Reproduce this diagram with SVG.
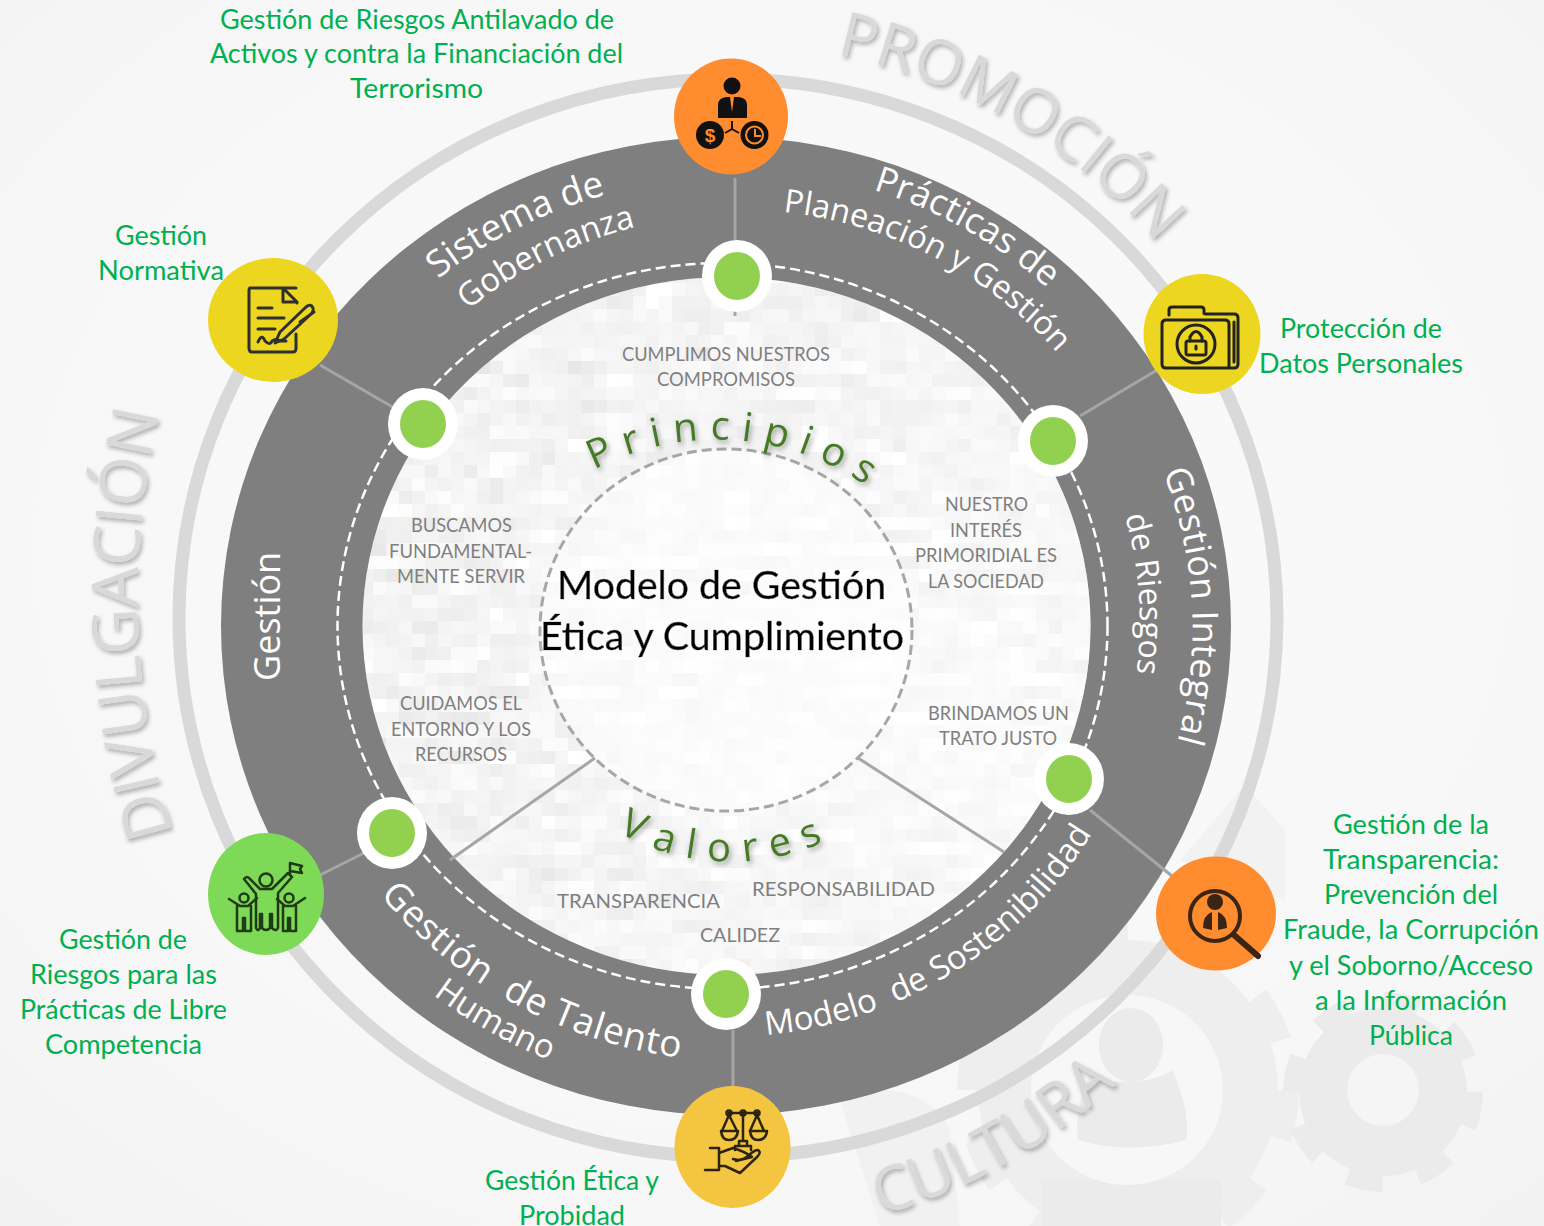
<svg xmlns="http://www.w3.org/2000/svg" width="1544" height="1226" viewBox="0 0 1544 1226">
<defs>
<radialGradient id="bg" cx="0.5" cy="0.45" r="0.75"><stop offset="0" stop-color="#fbfbfb"/><stop offset="0.7" stop-color="#f7f7f7"/><stop offset="1" stop-color="#f2f2f2"/></radialGradient>
<radialGradient id="fadeTex" gradientUnits="userSpaceOnUse" cx="960" cy="720" r="620"><stop offset="0" stop-color="#fff" stop-opacity="0.7"/><stop offset="0.5" stop-color="#fff" stop-opacity="0.25"/><stop offset="1" stop-color="#fff" stop-opacity="0"/></radialGradient>
<filter id="tex" filterUnits="userSpaceOnUse" x="360" y="270" width="735" height="710" color-interpolation-filters="sRGB">
<feTurbulence type="fractalNoise" baseFrequency="0.025 0.07" numOctaves="3" seed="7" result="n"/>
<feColorMatrix in="n" type="matrix" values="0 0 0 0 0.8 0 0 0 0 0.8 0 0 0 0 0.8 0.9 0 0 0 -0.22" result="c"/>
<feFlood x="366" y="276" width="1" height="1" flood-color="#000"/>
<feComposite x="360" y="270" width="13" height="13"/>
<feTile x="360" y="270" width="735" height="710" result="t"/>
<feComposite in="c" in2="t" operator="in"/>
<feMorphology operator="dilate" radius="6"/>
<feGaussianBlur stdDeviation="0.7"/>
</filter>
<filter id="sh" x="-10%" y="-10%" width="120%" height="120%"><feDropShadow dx="2" dy="3" stdDeviation="2" flood-color="#000" flood-opacity="0.3"/></filter>
<filter id="shg" x="-10%" y="-20%" width="120%" height="140%"><feDropShadow dx="2" dy="3" stdDeviation="2.5" flood-color="#000" flood-opacity="0.35"/></filter>
<filter id="glow" x="-10%" y="-20%" width="120%" height="140%"><feDropShadow dx="0" dy="0" stdDeviation="2.5" flood-color="#fff" flood-opacity="1"/></filter>
<clipPath id="innerClip"><ellipse cx="726.5" cy="626" rx="364" ry="349"/></clipPath>
<path id="pSis" d="M438 279A462 445 0 0 1 616 192"/>
<path id="pGob" d="M468 310A420 405 0 0 1 640 226"/>
<path id="pPra" d="M873 190A460 445 0 0 1 1060 300"/>
<path id="pPla" d="M783 212A420 405 0 0 1 1075 375"/>
<path id="pInt" d="M1163 472A462 445 0 0 1 1172 760"/>
<path id="pRie" d="M1125 516A420 405 0 0 1 1133 695"/>
<path id="pMod" d="M766 1035A425 410 0 0 0 1110 800"/>
<path id="pTal" d="M380 895A470 450 0 0 0 700 1060"/>
<path id="pHum" d="M433 995A510 490 0 0 0 570 1068"/>
<path id="pPro" d="M836 54A580 570 0 0 1 1200 300"/>
<path id="pDiv" d="M173 833A800 800 0 0 1 168 380"/>
<path id="pCul" d="M880 1215A580 570 0 0 0 1150 1050"/>
<path id="pPri" d="M594 470A250 235 0 0 1 890 505"/>
<path id="pVal" d="M618 832A215 200 0 0 0 832 838"/>
<style>
.g{font-family:"Lato","Liberation Sans",sans-serif;font-size:27px;fill:#00b050;transform:translate(0,1px)}
.l{font-family:"Lato","Liberation Sans",sans-serif;font-size:20px;fill:#7f7f7f}
.r{font-family:"Open Sans","Liberation Sans",sans-serif;font-size:36px;fill:#fff}
.b{font-family:"Open Sans","Liberation Sans",sans-serif;font-size:62px;fill:#d9d9d9}
.v{font-family:"Open Sans","Liberation Sans",sans-serif;font-size:40px;fill:#467a26}
.m{font-family:"Lato","Liberation Sans",sans-serif;font-size:38px;fill:#000;stroke:#000;stroke-width:.5}
.ic{fill:none;stroke:#2f2f2f;stroke-width:3;stroke-linecap:round;stroke-linejoin:round}
.ring{fill:#fff}.dot{fill:#92d050}
.sp{stroke:#a6a6a6;stroke-width:3;fill:none}
</style>
</defs>
<g id="background">
<rect width="1544" height="1226" fill="url(#bg)"/>
<path d="M1180 860L1245 785L1285 830L1285 900Z" fill="#f2f2f2"/>
<circle cx="1128" cy="1090" r="150" fill="#eeeeee"/>
<circle cx="1128" cy="1090" r="160" fill="none" stroke="#eeeeee" stroke-width="22" stroke-dasharray="50 50.5"/>
<rect x="1041" y="1180" width="180" height="46" fill="#ebebeb"/>
<ellipse cx="1127" cy="1090" rx="96" ry="95" fill="#f7f7f7"/>
<ellipse cx="1131" cy="1045" rx="32" ry="37" fill="#ebebeb"/>
<path d="M1090 1075C1110 1085 1150 1085 1172 1070C1184 1095 1190 1125 1186 1140C1150 1150 1110 1150 1078 1140C1075 1120 1080 1095 1090 1075Z" fill="#ebebeb"/>
<circle cx="1383" cy="1092" r="84" fill="#ebebeb"/>
<circle cx="1383" cy="1092" r="90" fill="none" stroke="#ebebeb" stroke-width="20" stroke-dasharray="35.3 35.4"/>
<circle cx="1383" cy="1090" r="36" fill="#f5f5f5"/>
<path d="M840 1100C880 1080 930 1090 950 1130L960 1226L880 1226Z" fill="#f1f1f1"/>
</g>
<g id="rings">
<ellipse cx="728" cy="618" rx="549" ry="539" fill="none" stroke="#d9d9d9" stroke-width="13"/>
<ellipse cx="726" cy="626" rx="505" ry="489" fill="#7f7f7f"/>
<ellipse cx="726.5" cy="626" rx="364" ry="349" fill="#fff"/>
<g clip-path="url(#innerClip)"><rect x="360" y="270" width="735" height="710" fill="#000" filter="url(#tex)"/><rect x="360" y="270" width="735" height="710" fill="url(#fadeTex)"/></g>
<ellipse cx="722.5" cy="626" rx="385" ry="363" fill="none" stroke="#fff" stroke-width="2.5" stroke-dasharray="10 5"/>
<ellipse cx="726" cy="630" rx="186" ry="181" fill="#fff" fill-opacity="0.55" stroke="#a6a6a6" stroke-width="3" stroke-dasharray="10 5"/>
</g>
<g id="connectors">
<path class="sp" d="M735 178V316M320 365L396 409M1157 370L1080 416M1090 810L1172 876M733 1030V1090M320 875L366 852M595 758L450 860M858 758L1004 852"/>
</g>
<g id="ring-labels">
<text class="r" style="font-size:37px"><textPath href="#pSis">Sistema de</textPath></text>
<text class="r" style="font-size:33px"><textPath href="#pGob">Gobernanza</textPath></text>
<text class="r"><textPath href="#pPra">Prácticas de</textPath></text>
<text class="r" style="font-size:32.500px"><textPath href="#pPla">Planeación y Gestión</textPath></text>
<text class="r" style="letter-spacing:.5px"><textPath href="#pInt">Gestión Integral</textPath></text>
<text class="r" style="font-size:32px"><textPath href="#pRie">de Riesgos</textPath></text>
<text class="r" style="font-size:33px"><textPath href="#pMod" xml:space="preserve">Modelo  de Sostenibilidad</textPath></text>
<text class="r" style="font-size:37px;letter-spacing:.8px"><textPath href="#pTal" xml:space="preserve">Gestión  de Talento</textPath></text>
<text class="r" style="font-size:33px"><textPath href="#pHum">Humano</textPath></text>
<text class="r" transform="translate(280 681) rotate(-90)">Gestión</text>
</g>
<g id="area-labels" filter="url(#sh)">
<text class="b"><textPath href="#pPro">PROMOCIÓN</textPath></text>
<text class="b" style="font-size:64px"><textPath href="#pDiv">DIVULGACIÓN</textPath></text>
<text class="b"><textPath href="#pCul">CULTURA</textPath></text>
</g>
<g id="center-title" filter="url(#glow)">
<text class="m" x="557" y="599" textLength="329" lengthAdjust="spacingAndGlyphs">Modelo de Gestión</text>
<text class="m" x="540" y="650" textLength="364" lengthAdjust="spacingAndGlyphs">Ética y Cumplimiento</text>
</g>
<g id="section-titles" filter="url(#shg)">
<text class="v" style="letter-spacing:11.5px"><textPath href="#pPri">Principios</textPath></text>
<text class="v" style="letter-spacing:12.5px"><textPath href="#pVal">Valores</textPath></text>
</g>
<g id="inner-labels">
<text class="l" x="622" y="361" textLength="208" lengthAdjust="spacingAndGlyphs">CUMPLIMOS NUESTROS</text>
<text class="l" x="657" y="386" textLength="138" lengthAdjust="spacingAndGlyphs">COMPROMISOS</text>
<text class="l" x="945" y="511" textLength="83" lengthAdjust="spacingAndGlyphs">NUESTRO</text>
<text class="l" x="950" y="537" textLength="72" lengthAdjust="spacingAndGlyphs">INTERÉS</text>
<text class="l" x="915" y="562" textLength="142" lengthAdjust="spacingAndGlyphs">PRIMORIDIAL ES</text>
<text class="l" x="928" y="588" textLength="116" lengthAdjust="spacingAndGlyphs">LA SOCIEDAD</text>
<text class="l" x="928" y="720" textLength="141" lengthAdjust="spacingAndGlyphs">BRINDAMOS UN</text>
<text class="l" x="939" y="745" textLength="118" lengthAdjust="spacingAndGlyphs">TRATO JUSTO</text>
<text class="l" x="411" y="532" textLength="101" lengthAdjust="spacingAndGlyphs">BUSCAMOS</text>
<text class="l" x="389" y="558" textLength="143" lengthAdjust="spacingAndGlyphs">FUNDAMENTAL-</text>
<text class="l" x="397" y="583" textLength="128" lengthAdjust="spacingAndGlyphs">MENTE SERVIR</text>
<text class="l" x="400" y="710" textLength="122" lengthAdjust="spacingAndGlyphs">CUIDAMOS EL</text>
<text class="l" x="391" y="736" textLength="140" lengthAdjust="spacingAndGlyphs">ENTORNO Y LOS</text>
<text class="l" x="415" y="761" textLength="92" lengthAdjust="spacingAndGlyphs">RECURSOS</text>
<text class="l" x="557" y="908" textLength="163" lengthAdjust="spacingAndGlyphs">TRANSPARENCIA</text>
<text class="l" x="752" y="896" textLength="183" lengthAdjust="spacingAndGlyphs">RESPONSABILIDAD</text>
<text class="l" x="700" y="942" textLength="80" lengthAdjust="spacingAndGlyphs">CALIDEZ</text>
</g>
<g id="dot-top"><ellipse class="ring" cx="737" cy="276" rx="35" ry="36"/><ellipse class="dot" cx="737" cy="276" rx="23" ry="24"/></g>
<g id="dot-left"><ellipse class="ring" cx="423" cy="424" rx="35" ry="36"/><ellipse class="dot" cx="423" cy="424" rx="23" ry="24"/></g>
<g id="dot-right-top"><ellipse class="ring" cx="1053" cy="441" rx="35" ry="36"/><ellipse class="dot" cx="1053" cy="441" rx="23" ry="24"/></g>
<g id="dot-right-bottom"><ellipse class="ring" cx="1069" cy="779" rx="35" ry="36"/><ellipse class="dot" cx="1069" cy="779" rx="23" ry="24"/></g>
<g id="dot-bottom"><ellipse class="ring" cx="726" cy="994" rx="35" ry="36"/><ellipse class="dot" cx="726" cy="994" rx="23" ry="24"/></g>
<g id="dot-bottom-left"><ellipse class="ring" cx="392" cy="833" rx="35" ry="36"/><ellipse class="dot" cx="392" cy="833" rx="23" ry="24"/></g>
<g id="node-lavado">
<ellipse cx="731" cy="116.5" rx="57" ry="58" fill="#ff8c2f"/>
<circle cx="732" cy="86" r="8.5" fill="#111"/>
<path d="M718 118V105Q718 98 726 97L730 97L732 112L734 97L739 97Q747 98 747 105V118Z" fill="#111"/>
<circle cx="710" cy="135" r="14" fill="#111"/><circle cx="754.500" cy="135" r="14" fill="#111"/>
<circle cx="754.500" cy="135" r="8.500" fill="none" stroke="#ff8c2f" stroke-width="2"/>
<path d="M755 129V136H761" fill="none" stroke="#ff8c2f" stroke-width="2"/>
<text x="710" y="142" text-anchor="middle" style="font-family:'Liberation Sans',sans-serif;font-size:19px;font-weight:700;fill:#ff8c2f">$</text>
<path d="M732 121V129L725 133M732 129L739 133" fill="none" stroke="#111" stroke-width="2"/>
<text class="g" x="220" y="28" textLength="394" lengthAdjust="spacingAndGlyphs">Gestión de Riesgos Antilavado de</text>
<text class="g" x="210" y="62" textLength="413" lengthAdjust="spacingAndGlyphs">Activos y contra la Financiación del</text>
<text class="g" x="350" y="97" textLength="133" lengthAdjust="spacingAndGlyphs">Terrorismo</text>
</g>
<g id="node-normativa">
<ellipse cx="273" cy="320" rx="65" ry="62" fill="#ecd61f"/>
<path class="ic" d="M296 288L283 288V302H297M283 288L297 302V303M250 288H283M250 288Q249 288 249 291V348Q249 352 252 352H293Q296 352 296 348V334"/>
<path class="ic" d="M258 308H272M258 318H284M258 329H275M258 342Q262 333 265 341Q270 346 272 341Q276 338 280 341H286"/>
<path class="ic" d="M275 343L280 332L306 307Q311 303 313 308Q314 312 310 315L284 339Z M300 322L314 312"/>
<text class="g" x="115" y="244" textLength="92" lengthAdjust="spacingAndGlyphs">Gestión</text>
<text class="g" x="98" y="279" textLength="126" lengthAdjust="spacingAndGlyphs">Normativa</text>
</g>
<g id="node-datos">
<ellipse cx="1202" cy="334" rx="58.500" ry="60" fill="#ecd61f"/>
<path class="ic" style="stroke:#222" d="M1169 315V310Q1169 307 1172 307H1201Q1204 307 1204 310V313Q1204 314 1206 314H1234Q1238 314 1238 318V364Q1238 368 1234 368H1166Q1162 368 1162 364V324Q1162 320 1166 320H1225Q1229 320 1229 324V366M1234 322V362"/>
<circle class="ic" style="stroke:#222" cx="1196" cy="344" r="19"/>
<rect class="ic" style="stroke:#222" x="1186" y="341" width="20" height="14" rx="2"/>
<path class="ic" style="stroke:#222" d="M1190 341V337Q1196 326 1202 337V341M1196 346V349"/>
<text class="g" x="1280" y="337" textLength="162" lengthAdjust="spacingAndGlyphs">Protección de</text>
<text class="g" x="1259" y="372" textLength="204" lengthAdjust="spacingAndGlyphs">Datos Personales</text>
</g>
<g id="node-transparencia">
<ellipse cx="1216" cy="913.500" rx="60" ry="57" fill="#ff8c2f"/>
<circle cx="1215" cy="916" r="25" fill="none" stroke="#3a2414" stroke-width="4"/>
<path d="M1234 935L1258 956" stroke="#3a2414" stroke-width="6" fill="none" stroke-linecap="round"/>
<circle cx="1215" cy="902" r="8" fill="#3a2414"/>
<path d="M1203 928Q1203 915 1212 912L1212 930ZM1227 928Q1227 915 1218 912L1218 930Z" fill="#3a2414"/>
<text class="g" x="1333" y="833" textLength="156" lengthAdjust="spacingAndGlyphs">Gestión de la</text>
<text class="g" x="1323" y="868" textLength="176" lengthAdjust="spacingAndGlyphs">Transparencia:</text>
<text class="g" x="1324" y="903" textLength="174" lengthAdjust="spacingAndGlyphs">Prevención del</text>
<text class="g" x="1283" y="938" textLength="256" lengthAdjust="spacingAndGlyphs">Fraude, la Corrupción</text>
<text class="g" x="1289" y="974" textLength="244" lengthAdjust="spacingAndGlyphs">y el Soborno/Acceso</text>
<text class="g" x="1315" y="1009" textLength="192" lengthAdjust="spacingAndGlyphs">a la Información</text>
<text class="g" x="1369" y="1044" textLength="84" lengthAdjust="spacingAndGlyphs">Pública</text>
</g>
<g id="node-etica">
<ellipse cx="732.500" cy="1147" rx="58" ry="61" fill="#f3c540"/>
<g class="ic" style="stroke:#2a2410;stroke-width:2.500">
<path d="M729 1113H757M743 1113V1141M729 1115L722 1131M729 1115L737 1131M757 1115L750 1131M757 1115L764 1131"/>
<circle cx="729" cy="1113" r="2.500"/><circle cx="743" cy="1113" r="2.500"/><circle cx="757" cy="1113" r="2.500"/>
<path d="M721 1131H738Q737 1140 729 1140Q722 1140 721 1131ZM750 1131H767Q766 1140 758 1140Q751 1140 750 1131ZM739 1146V1141H747V1146M735 1150V1146H751V1150"/>
<path d="M710 1148H719V1170H705H719M719 1153L733 1148Q746 1152 752 1157L736 1161M733 1159Q742 1162 749 1155Q757 1148 759 1151Q761 1153 757 1157L740 1173L725 1166H719"/>
</g>
<text class="g" x="485" y="1189" textLength="174" lengthAdjust="spacingAndGlyphs">Gestión Ética y</text>
<text class="g" x="519" y="1224" textLength="106" lengthAdjust="spacingAndGlyphs">Probidad</text>
</g>
<g id="node-competencia">
<ellipse cx="266" cy="894" rx="58" ry="61" fill="#7ed957"/>
<g class="ic" style="stroke:#1f3a14;stroke-width:2.500">
<circle cx="266" cy="880" r="6.500"/>
<path d="M244 879Q247 875 250 879L260 889H272L288 873L292 877L278 893V928Q276 932 272 928V914H270V928Q266 932 262 928V914H260V928Q258 932 256 928V894Z"/>
<circle cx="244" cy="898" r="4.500"/><circle cx="289" cy="898" r="4.500"/>
<path d="M229 899L240 906H248L257 898M237 906V931H243V918H245V931H251V906"/>
<path d="M277 899L285 906H293L305 898M283 906V931H288V918H290V931H296V906"/>
<path d="M290 873V864M290 863L302 866L300 869L302 873L290 871"/>
</g>
<text class="g" x="59" y="948" textLength="128" lengthAdjust="spacingAndGlyphs">Gestión de</text>
<text class="g" x="30" y="983" textLength="187" lengthAdjust="spacingAndGlyphs">Riesgos para las</text>
<text class="g" x="20" y="1018" textLength="207" lengthAdjust="spacingAndGlyphs">Prácticas de Libre</text>
<text class="g" x="45" y="1053" textLength="157" lengthAdjust="spacingAndGlyphs">Competencia</text>
</g>
</svg>
